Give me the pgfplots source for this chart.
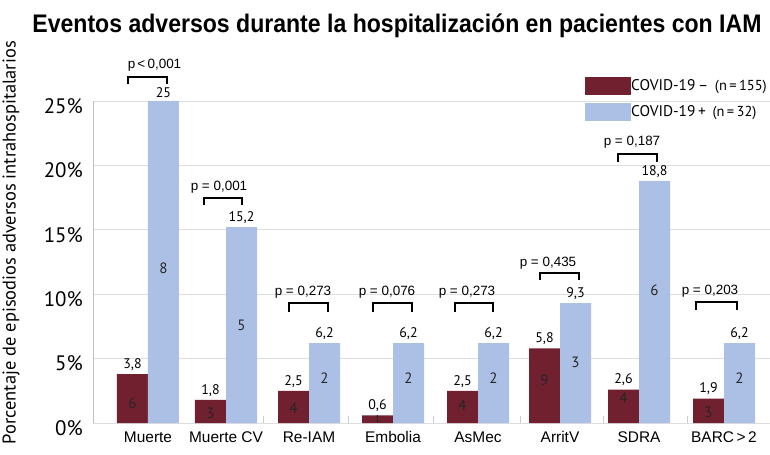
\documentclass[border=0pt]{standalone}
\usepackage{fontspec}
\setmainfont{Liberation Sans}
\newfontfamily\myriad{PT Sans}
\usepackage{pgfplots}
\pgfplotsset{compat=1.18}
\definecolor{cneg}{RGB}{112,32,46}
\definecolor{cpos}{RGB}{171,192,228}
\begin{document}
\begin{tikzpicture}
\begin{axis}[
  at={(0,0)}, anchor=south west,
  width=677bp, height=322bp, scale only axis,
  xmin=93, xmax=770, ymin=0, ymax=25,
  clip=false,
  axis x line*=bottom, axis y line*=left,
  x axis line style={draw=none},
  y axis line style={draw=black!25, line width=0.8pt},
  ytick={0,5,...,25},
  yticklabels={0\%,5\%,10\%,15\%,20\%,25\%},
  yticklabel style={font=\myriad\fontsize{21}{21}\selectfont, anchor=east, inner sep=0pt, xshift=-10bp, yshift=-5bp},
  xtick={148,226,309,393,478,560,639,724},
  xticklabels={Muerte,Muerte CV,Re-IAM,Embolia,AsMec,ArritV,SDRA,BARC\,>\,2},
  xticklabel style={font=\fontsize{15.5}{16}\selectfont, anchor=base, inner sep=0pt, yshift=-19bp},
  major tick length=0pt,
  minor xtick={178,263,348,433,520,603,687},
  minor x tick style={draw=black!20, line width=0.8pt},
  minor tick length=7bp, tick align=inside,
  ymajorgrids, major grid style={draw=black!13, line width=0.8pt},
  /pgf/number format/assume math mode=true,
  /pgf/number format/.cd, fixed, precision=1, use comma, /pgfplots/.cd,
  nodes near coords,
  every node near coord/.append style={font=\myriad\fontsize{14}{14}\selectfont, text=black},
  legend cell align=left,
  legend style={at={(axis description cs:0.727,1.0745)}, anchor=north west, draw=none, fill=none,
    inner sep=0pt, outer sep=0pt, row sep=8bp,
    nodes={inner sep=0pt, font=\myriad\fontsize{15.5}{15.5}\selectfont},
    /tikz/every even column/.append style={column sep=4bp}},
]
\addplot[ybar, bar width=31, bar shift=-15.5, fill=cneg, draw=none,
  every node near coord/.append style={xshift=-15.5bp},
  legend image code/.code={\fill[cneg] (0bp,-9bp) rectangle (46bp,9bp);}]
  coordinates {(148,3.8) (226,1.8) (309,2.5) (393,0.6) (478,2.5) (560,5.8) (639,2.6) (724,1.9)};
\addlegendentry{COVID-19\,–\, {\fontsize{14.5}{14.5}\selectfont(n\,=\,155)}}
\addplot[ybar, bar width=31, bar shift=15.5, fill=cpos, draw=none,
  every node near coord/.append style={xshift=15.5bp},
  legend image code/.code={\fill[cpos] (0bp,-9bp) rectangle (46bp,9bp);}]
  coordinates {(148,25) (226,15.2) (309,6.2) (393,6.2) (478,6.2) (560,9.3) (639,18.8) (724,6.2)};
\addlegendentry{COVID-19\,+\, {\fontsize{14.5}{14.5}\selectfont(n\,=\,32)}}

% counts inside bars
\begin{scope}[every node/.style={font=\myriad\fontsize{15}{15}\selectfont, text=black!85}]
\node at (axis cs:132.5,1.55) {6};
\node at (axis cs:210.5,0.75) {3};
\node at (axis cs:293.5,1.16) {4};
\node at (axis cs:377.5,0.3) {\fontsize{10}{10}\selectfont 1};
\node at (axis cs:462.5,1.4) {4};
\node at (axis cs:544.5,3.34) {9};
\node at (axis cs:623.5,1.94) {4};
\node at (axis cs:708.5,0.85) {3};
\node at (axis cs:163.5,12.0) {8};
\node at (axis cs:241.5,7.6) {5};
\node at (axis cs:324.5,3.5) {2};
\node at (axis cs:408.5,3.5) {2};
\node at (axis cs:493.5,3.5) {2};
\node at (axis cs:575.5,4.7) {3};
\node at (axis cs:654.5,10.3) {6};
\node at (axis cs:739.5,3.5) {2};
\end{scope}

% brackets and p-values
\begin{scope}[line width=1.3bp]
\draw (axis cs:128,26.32) -- (axis cs:128,26.86) -- (axis cs:167,26.86) -- (axis cs:167,26.32);
\draw (axis cs:204,16.93) -- (axis cs:204,17.47) -- (axis cs:242,17.47) -- (axis cs:242,16.93);
\draw (axis cs:289,8.6) -- (axis cs:289,9.32) -- (axis cs:328,9.32) -- (axis cs:328,8.6);
\draw (axis cs:373,8.6) -- (axis cs:373,9.32) -- (axis cs:412,9.32) -- (axis cs:412,8.6);
\draw (axis cs:455,8.6) -- (axis cs:455,9.32) -- (axis cs:493,9.32) -- (axis cs:493,8.6);
\draw (axis cs:540,11.1) -- (axis cs:540,11.65) -- (axis cs:579,11.65) -- (axis cs:579,11.1);
\draw (axis cs:618,20.3) -- (axis cs:618,20.89) -- (axis cs:657,20.89) -- (axis cs:657,20.3);
\draw (axis cs:696,8.8) -- (axis cs:696,9.39) -- (axis cs:737,9.39) -- (axis cs:737,8.8);
\end{scope}
\begin{scope}[every node/.style={font=\fontsize{13.5}{14}\selectfont, inner sep=0pt}]
\node at (axis cs:154.5,27.8) {p\,<\,0,001};
\node at (axis cs:219,18.32) {p = 0,001};
\node at (axis cs:303,10.17) {p = 0,273};
\node at (axis cs:387,10.17) {p = 0,076};
\node at (axis cs:467,10.17) {p = 0,273};
\node at (axis cs:548,12.42) {p = 0,435};
\node at (axis cs:632,21.82) {p = 0,187};
\node at (axis cs:710,10.25) {p = 0,203};
\end{scope}

% title and y label
\node[anchor=base] at (axis description cs:0.449,1.214)
  {\resizebox{729bp}{\height}{\fontsize{25.5}{26}\selectfont\bfseries Eventos adversos durante la hospitalización en pacientes con IAM}};
\node[rotate=90, font=\myriad\fontsize{18.5}{19}\selectfont] at (axis description cs:-0.1211,0.56)
  {Porcentaje de episodios adversos intrahospitalarios};
\end{axis}
\pgfresetboundingbox
\path[use as bounding box] (-93bp,-32bp) rectangle (677bp,423bp);
\end{tikzpicture}
\end{document}
